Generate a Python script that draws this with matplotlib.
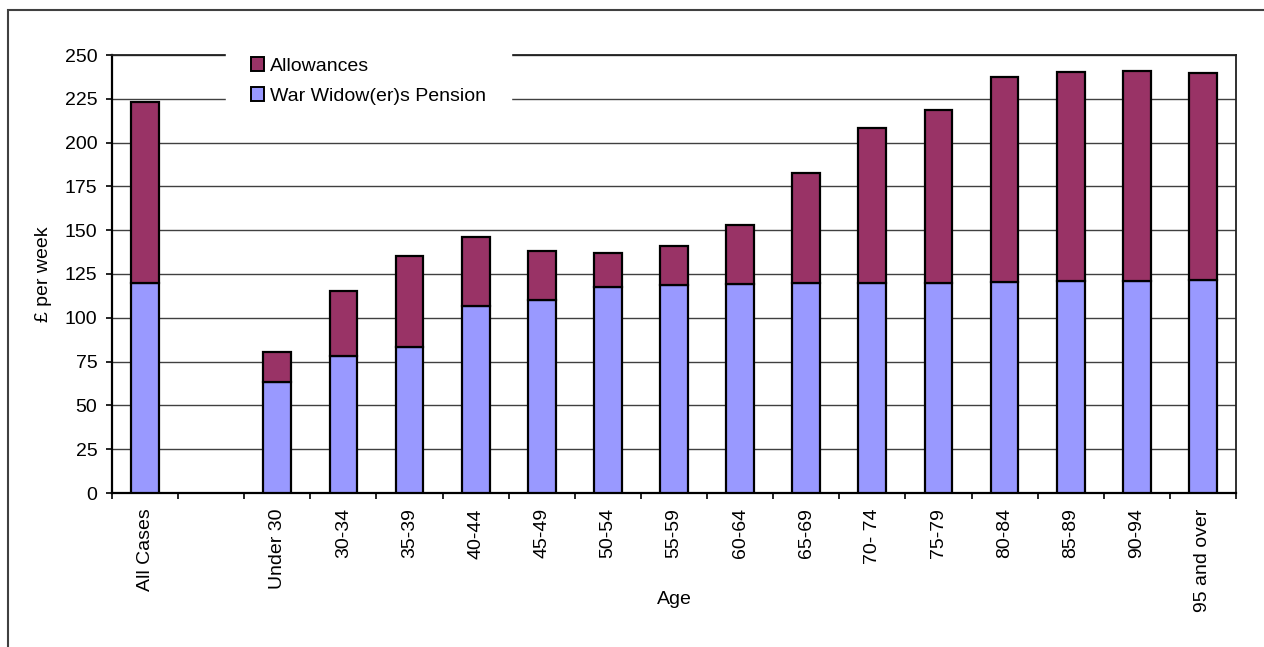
import matplotlib
matplotlib.use("Agg")
import matplotlib.pyplot as plt
from matplotlib.patches import Rectangle, Patch
import numpy as np

plt.rcParams['font.family'] = ['Liberation Sans', 'DejaVu Sans']

categories = ["All Cases", "", "Under 30", "30-34", "35-39", "40-44", "45-49",
              "50-54", "55-59", "60-64", "65-69", "70- 74", "75-79", "80-84",
              "85-89", "90-94", "95 and over"]
pension = [120.0, None, 63.5, 78.2, 83.2, 106.9, 110.2, 117.8, 118.7, 119.3,
           119.9, 119.7, 120.0, 120.4, 121.0, 121.2, 121.4]
allowances = [103.3, None, 16.8, 37.3, 52.1, 39.4, 27.7, 19.0, 22.3, 33.9,
              62.6, 88.4, 98.4, 117.2, 119.1, 119.5, 118.1]
y_ticks = [0, 25, 50, 75, 100, 125, 150, 175, 200, 225, 250]

PURPLE = "#9999FF"
MAROON = "#993366"
FS = 14

W, H = 1264, 647
fig = plt.figure(figsize=(W / 100, H / 100), dpi=100)
ax = fig.add_axes([112 / W, 1 - 493 / H, (1236 - 112) / W, (493 - 55) / H])

centers = np.arange(len(categories)) + 0.5
idx = [i for i, v in enumerate(pension) if v is not None]
xs = centers[idx]
p = np.array([pension[i] for i in idx])
a = np.array([allowances[i] for i in idx])

bw = 0.42
ax.bar(xs, p, width=bw, color=PURPLE, edgecolor="black", linewidth=1.6, zorder=3)
ax.bar(xs, a, bottom=p, width=bw, color=MAROON, edgecolor="black", linewidth=1.6, zorder=3)

ax.set_xlim(0, len(categories))
ax.set_ylim(0, 250)
ax.set_yticks(y_ticks)
ax.set_yticklabels([str(t) for t in y_ticks], fontsize=FS)
ax.yaxis.grid(True, color="#404040", linewidth=1.0)
ax.set_axisbelow(True)

ax.set_xticks(np.arange(0, len(categories) + 1))
ax.set_xticklabels([])
ax.set_xticks(centers, minor=True)
ax.set_xticklabels(categories, minor=True, rotation=90, fontsize=FS, va="top")
ax.tick_params(axis="x", which="minor", length=0, pad=11)
ax.tick_params(axis="x", which="major", length=4.5, width=1.2, direction="out")
ax.tick_params(axis="y", length=4.5, width=1.2, direction="out", pad=6)

for s in ["left", "bottom"]:
    ax.spines[s].set_linewidth(1.6)
    ax.spines[s].set_color("black")
for s in ["top", "right"]:
    ax.spines[s].set_linewidth(1.3)
    ax.spines[s].set_color("#202020")

ax.set_ylabel("£ per week", fontsize=FS)
ax.yaxis.set_label_coords(-0.0534, 0.5)
ax.set_xlabel("Age", fontsize=FS)
ax.xaxis.set_label_coords(0.5, -0.224)

handles = [Patch(facecolor=MAROON, edgecolor="black", linewidth=1.4, label="Allowances"),
           Patch(facecolor=PURPLE, edgecolor="black", linewidth=1.4, label="War Widow(er)s Pension")]
leg = ax.legend(handles=handles, loc="upper left", bbox_to_anchor=(0.1014, 1.0525),
                frameon=True, fancybox=False, fontsize=FS, handlelength=0.67,
                handleheight=0.67, handletextpad=0.28, labelspacing=0.65,
                borderpad=1.3, borderaxespad=0)
leg.get_frame().set_edgecolor("white")
leg.get_frame().set_facecolor("white")
leg.get_frame().set_alpha(1)
leg.set_zorder(10)

# outer chart frame
fig.patches.append(Rectangle((8 / W, -0.1), 2, 1 - 10 / H + 0.1, fill=False,
                             edgecolor="#404040", linewidth=1.5,
                             transform=fig.transFigure, figure=fig))

fig.savefig("out.png", dpi=100)
